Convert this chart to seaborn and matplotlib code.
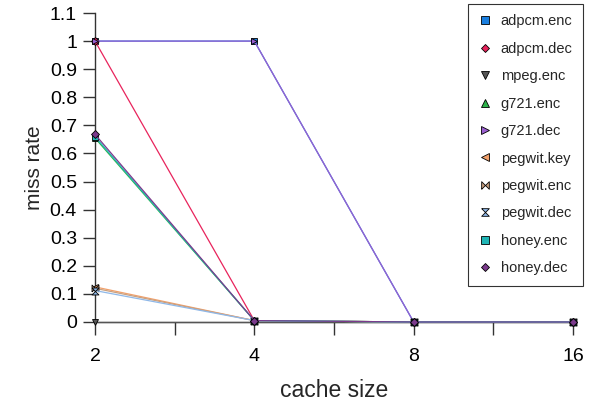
import numpy as np
import pandas as pd
import matplotlib
matplotlib.use("Agg")
import matplotlib.pyplot as plt
from matplotlib.lines import Line2D
from matplotlib.ticker import FixedLocator, NullFormatter
import seaborn as sns

# data
cache_sizes = [2, 4, 8, 16]
benchmarks = ['adpcm.enc', 'adpcm.dec', 'mpeg.enc', 'g721.enc', 'g721.dec',
              'pegwit.key', 'pegwit.enc', 'pegwit.dec', 'honey.enc', 'honey.dec']
miss_rates = {
    'adpcm.enc':  [1.0, 1.0, 0.0, 0.0],
    'adpcm.dec':  [1.0, 0.005, 0.0, 0.0],
    'mpeg.enc':   [0.0, 0.0, 0.0, 0.0],
    'g721.enc':   [0.655, 0.005, 0.0, 0.0],
    'g721.dec':   [1.0, 1.0, 0.0, 0.0],
    'pegwit.key': [0.125, 0.005, 0.0, 0.0],
    'pegwit.enc': [0.12, 0.005, 0.0, 0.0],
    'pegwit.dec': [0.112, 0.005, 0.0, 0.0],
    'honey.enc':  [0.66, 0.005, 0.0, 0.0],
    'honey.dec':  [0.668, 0.005, 0.0, 0.0],
}
colors = ['#1a7fe0', '#e8245c', '#555555', '#2db34a', '#9a5fd0',
          '#f2a06a', '#c9a080', '#8fb8e8', '#1fb5b5', '#7b3a8c']
ytick_vals = [0, 0.1, 0.2, 0.3, 0.4, 0.5, 0.6, 0.7, 0.8, 0.9, 1.0, 1.1]
ytick_labels = ['0', '0.1', '0.2', '0.3', '0.4', '0.5', '0.6', '0.7', '0.8', '0.9', '1', '1.1']

# custom markers
bowtie = [(-1, -1), (-1, 1), (1, -1), (1, 1), (-1, -1)]
hourglass = [(-1, 1), (1, 1), (-1, -1), (1, -1), (-1, 1)]
markers = ['s', 'D', 'v', '^', '>', '<', bowtie, hourglass, 's', 'D']
msizes = [5, 4, 5, 5, 5, 5, 5, 5, 5, 4]

df = pd.DataFrame([(b, c, v) for b in benchmarks for c, v in zip(cache_sizes, miss_rates[b])],
                  columns=['bench', 'cache', 'miss'])

sns.set_style("ticks")
plt.rcParams['font.family'] = ['Liberation Sans', 'DejaVu Sans']

fig = plt.figure(figsize=(5.9, 4.12), dpi=100)
ax = fig.add_axes([95/590, 1 - 322/412, (573-95)/590, (322-13)/412])

for i, b in enumerate(benchmarks):
    sub = df[df['bench'] == b]
    sns.lineplot(data=sub, x='cache', y='miss', ax=ax, color=colors[i], linewidth=0.9,
                 marker=markers[i], markersize=msizes[i], markeredgecolor='black',
                 markeredgewidth=0.6, markerfacecolor=colors[i], clip_on=False, zorder=3 + i)

ax.set_xscale('log', base=2)
ax.set_xlim(2, 16)
ax.set_ylim(0, 1.1)
ax.xaxis.set_major_locator(FixedLocator(cache_sizes))
ax.set_xticklabels([str(c) for c in cache_sizes])
ax.xaxis.set_minor_locator(FixedLocator([2*np.sqrt(2), 4*np.sqrt(2), 8*np.sqrt(2)]))
ax.xaxis.set_minor_formatter(NullFormatter())
ax.set_yticks(ytick_vals)
ax.set_yticklabels(ytick_labels)

ax.tick_params(axis='both', which='both', direction='out', length=9, width=1,
               color='#333333', labelsize=14, labelcolor='black')
ax.tick_params(axis='x', which='major', pad=10)
ax.tick_params(axis='y', pad=4)
for s in ['top', 'right']:
    ax.spines[s].set_visible(False)
for s in ['left', 'bottom']:
    ax.spines[s].set_color('#333333')
    ax.spines[s].set_linewidth(1)

ax.set_xlabel('cache size', fontsize=16.5, labelpad=10)
ax.set_ylabel('miss rate', fontsize=15, labelpad=4)

handles = [Line2D([], [], linestyle='none', marker=markers[i], markersize=msizes[i] + 0.5,
                  markerfacecolor=colors[i], markeredgecolor='black', markeredgewidth=0.6)
           for i in range(len(benchmarks))]
leg = fig.legend(handles, benchmarks, loc='upper right', bbox_to_anchor=(583/590, 1 - 4/412),
                 frameon=True, fancybox=False, fontsize=10.5, handlelength=0.8,
                 handletextpad=0.7, labelspacing=0.92, borderpad=0.72, borderaxespad=0)
leg.get_frame().set_edgecolor('black')
leg.get_frame().set_linewidth(0.8)

fig.savefig('out.png', dpi=100)
